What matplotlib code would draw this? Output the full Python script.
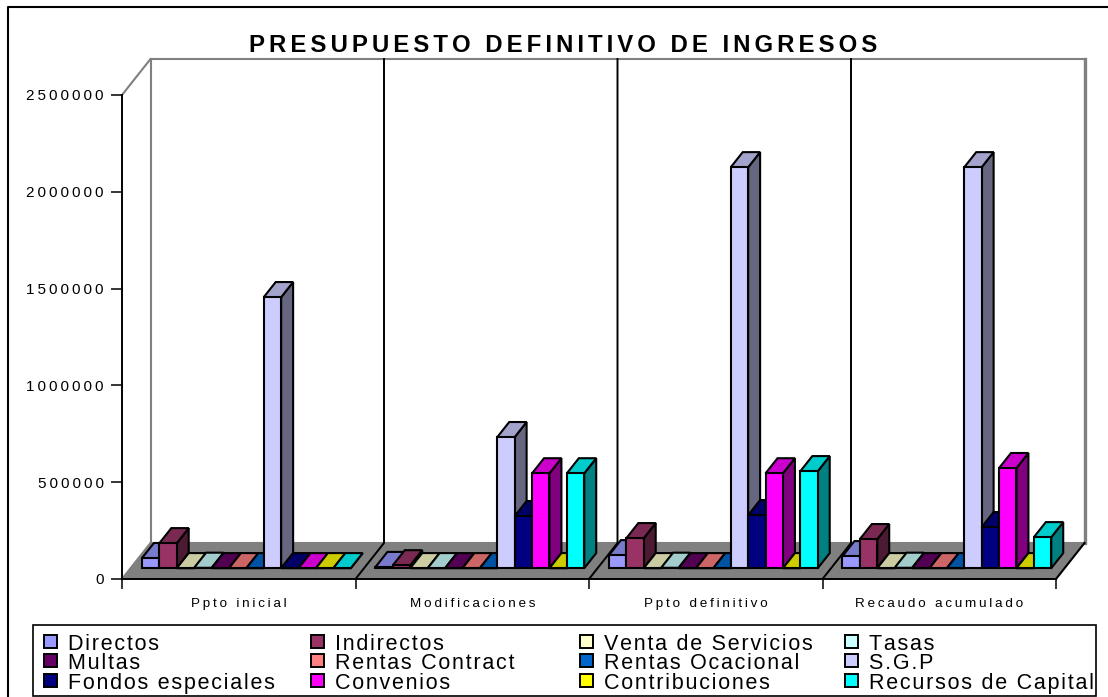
import numpy as np
import matplotlib
matplotlib.use("Agg")
import matplotlib.pyplot as plt
from matplotlib.patches import Polygon, Rectangle
from matplotlib.lines import Line2D

plt.rcParams['font.family'] = ['Liberation Sans', 'DejaVu Sans']

titulo = "PRESUPUESTO DEFINITIVO DE INGRESOS"
categorias = ["Ppto inicial", "Modificaciones", "Ppto definitivo", "Recaudo acumulado"]
yticks = [0, 500000, 1000000, 1500000, 2000000, 2500000]
series = ["Directos", "Indirectos", "Venta de Servicios", "Tasas",
          "Multas", "Rentas Contract", "Rentas Ocacional", "S.G.P",
          "Fondos especiales", "Convenios", "Contribuciones", "Recursos de Capital"]
colores = ["#9999FF", "#993366", "#FFFFCC", "#CCFFFF",
           "#660066", "#FF8080", "#0066CC", "#CCCCFF",
           "#000080", "#FF00FF", "#FFFF00", "#00FFFF"]

# valores, una lista por serie
directos = [52000, 6000, 67000, 62000]
indirectos = [129000, 15000, 155000, 150000]
venta = [0, 0, 0, 0]
tasas = [2000, 0, 2000, 2000]
multas = [0, 0, 0, 0]
rentas_contract = [0, 0, 0, 0]
rentas_ocacional = [0, 0, 0, 0]
sgp = [1400000, 677000, 2071000, 2071000]
fondos = [0, 269000, 274000, 212000]
convenios = [0, 490000, 490000, 517000]
contribuciones = [0, 0, 0, 0]
recursos = [0, 490000, 501000, 160000]
valores = [directos, indirectos, venta, tasas, multas, rentas_contract,
           rentas_ocacional, sgp, fondos, convenios, contribuciones, recursos]

W, H = 1108, 697
fig = plt.figure(figsize=(W / 100, H / 100), dpi=100, facecolor="white")

# area del piso frontal en pixeles
x0, x1, y0, y1 = 122, 1056, 579, 95
ax = fig.add_axes([x0 / W, 1 - y0 / H, (x1 - x0) / W, (y0 - y1) / H])
ax.set_xlim(0, 4)
ax.set_ylim(0, 2500000)
ax.patch.set_visible(False)

px_x = 4 / (x1 - x0)
px_y = 2500000 / (y0 - y1)
DX = 28.5 * px_x   # profundidad del piso
DY = 36 * px_y


def pt(x, v, d):
    return (x + d * DX, v + d * DY)


def sombra(c, f):
    r, g, b = matplotlib.colors.to_rgb(c)
    return (r * f, g * f, b * f)


def poly(puntos, fc, ec="black", lw=1.5, z=2):
    ax.add_patch(Polygon(puntos, closed=True, facecolor=fc, edgecolor=ec,
                         linewidth=lw, zorder=z, clip_on=False, joinstyle="miter"))


# paredes y piso
poly([pt(0, 0, 1), pt(4, 0, 1), pt(4, 2500000, 1), pt(0, 2500000, 1)], "white", "#808080", 1.5, 1)
ax.plot([4 + DX, 4 + DX], [DY, 2500000 + DY], color="#808080", lw=2.4, clip_on=False, zorder=1)
ax.plot([0, DX], [2500000, 2500000 + DY], color="#808080", lw=1.5, clip_on=False, zorder=1)
ax.plot([0, DX], [0, DY], color="#808080", lw=1.5, clip_on=False, zorder=1)
poly([pt(0, 0, 0), pt(4, 0, 0), pt(4, 0, 1), pt(0, 0, 1)], "#808080", "none", 0, 1.2)
ax.plot([4, 4 + DX], [0, DY], color="black", lw=1.5, clip_on=False, zorder=1.3)
for i in range(1, 4):
    ax.plot([i, i + DX, i + DX], [0, DY, 2500000 + DY], color="black", lw=1.4,
            clip_on=False, zorder=1.3)

# barras
ini = 11.4 * px_x
ancho = 17.4 * px_x
d0, d1 = 0.3, 0.72
z = 3
for i in range(4):
    for j, nombre in enumerate(series):
        v = valores[j][i]
        xa = i + ini + j * ancho
        xb = xa + ancho
        c = colores[j]
        poly([pt(xb, 0, d0), pt(xb, 0, d1), pt(xb, v, d1), pt(xb, v, d0)], sombra(c, 0.5), z=z)
        poly([pt(xa, v, d0), pt(xb, v, d0), pt(xb, v, d1), pt(xa, v, d1)], sombra(c, 0.8), z=z)
        poly([pt(xa, 0, d0), pt(xb, 0, d0), pt(xb, v, d0), pt(xa, v, d0)], c, z=z)
        z += 0.01

# ejes
for s in ["top", "right"]:
    ax.spines[s].set_visible(False)
for s in ["left", "bottom"]:
    ax.spines[s].set_linewidth(1.4)
    ax.spines[s].set_zorder(2.5)
ax.set_yticks(yticks)
ax.set_yticklabels(["\u2009".join(str(v)) for v in yticks], fontsize=11, color="black")
ax.tick_params(axis="y", length=8, width=1.1, pad=5)
ax.set_xticks(range(5))
ax.set_xticklabels([])
ax.set_xticks(np.arange(4) + 0.5, minor=True)
ax.set_xticklabels(["\u2009".join(c) for c in categorias], minor=True, fontsize=9.7)
ax.tick_params(axis="x", which="major", length=7, width=1.1)
ax.tick_params(axis="x", which="minor", length=0, pad=14)


def fx(px):
    return px / W


def fy(py):
    return 1 - py / H


# marco exterior
fig.add_artist(Line2D([fx(8), fx(8), fx(1108)], [fy(697), fy(7), fy(7)], color="black", lw=1.5))

fig.text(fx(563), fy(45), "\u200a\u200a".join(titulo), fontsize=17.3, fontweight="bold",
         ha="center", va="center")

# leyenda
fig.add_artist(Rectangle((fx(33), fy(696)), fx(1063), 71 / H, transform=fig.transFigure,
                         facecolor="white", edgecolor="black", linewidth=1.2, zorder=5))
col_x = [44, 311, 580, 845]
fila_y = [643, 662, 682]
for k, nombre in enumerate(series):
    cx = col_x[k % 4]
    cy = fila_y[k // 4]
    fig.add_artist(Rectangle((fx(cx), fy(cy + 5)), 13 / W, 13 / H, transform=fig.transFigure,
                             facecolor=colores[k], edgecolor="black", linewidth=1.4, zorder=6))
    fig.text(fx(cx + 24), fy(cy + 1.5), "\u200a".join(nombre), fontsize=15.5, ha="left",
             va="center", zorder=6)

fig.savefig("out.png", dpi=100)
